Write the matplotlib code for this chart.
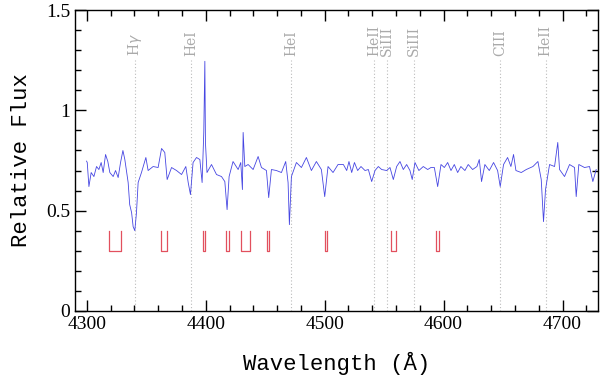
import matplotlib
matplotlib.use("Agg")
import matplotlib.pyplot as plt
from matplotlib.ticker import MultipleLocator

wave = [4299.7, 4300.3, 4301.7, 4303.6, 4305.9, 4308.1, 4310.1, 4312.0, 4313.7, 4315.7,
        4317.6, 4319.3, 4322.1, 4324.1, 4326.3, 4328.3, 4330.3, 4331.9, 4334.7, 4336.0,
        4337.6, 4338.9, 4340.3, 4341.7, 4343.1, 4345.9, 4349.6, 4351.5, 4355.7, 4359.9,
        4362.8, 4365.5, 4367.5, 4371.2, 4375.4, 4379.6, 4383.2, 4385.2, 4387.1, 4389.3,
        4392.2, 4395.0, 4396.9, 4398.3, 4399.2, 4399.7, 4401.0, 4404.8, 4409.0, 4413.2,
        4416.0, 4417.9, 4419.6, 4422.9, 4427.2, 4429.4, 4430.8, 4431.4, 4432.8, 4435.6,
        4439.8, 4444.0, 4446.8, 4451.0, 4452.9, 4455.2, 4459.4, 4463.6, 4467.2, 4469.2,
        4470.3, 4472.0, 4476.2, 4480.4, 4484.6, 4488.8, 4493.0, 4497.2, 4500.0, 4502.8,
        4507.0, 4511.2, 4515.7, 4518.5, 4520.4, 4522.7, 4525.0, 4527.7, 4530.5, 4533.9,
        4536.7, 4539.5, 4542.3, 4545.1, 4547.9, 4552.1, 4554.9, 4557.7, 4560.5, 4563.3,
        4566.1, 4568.9, 4571.7, 4573.6, 4575.9, 4579.2, 4582.9, 4586.6, 4589.3, 4592.2,
        4595.0, 4597.8, 4600.6, 4603.4, 4606.2, 4609.0, 4611.8, 4614.5, 4617.9, 4620.7,
        4624.4, 4628.0, 4630.0, 4631.9, 4634.7, 4638.4, 4642.0, 4645.4, 4647.6, 4650.4,
        4653.8, 4656.6, 4658.8, 4660.8, 4665.3, 4669.5, 4675.1, 4679.3, 4682.1, 4684.0,
        4685.7, 4689.1, 4693.3, 4696.0, 4697.5, 4701.7, 4705.9, 4710.1, 4711.5, 4713.7,
        4718.5, 4722.7, 4725.5, 4728.3]
flux = [0.747, 0.74, 0.62, 0.69, 0.67, 0.72, 0.705, 0.74, 0.69, 0.78,
        0.745, 0.69, 0.67, 0.70, 0.665, 0.74, 0.80, 0.755, 0.64, 0.53,
        0.49, 0.42, 0.40, 0.49, 0.64, 0.69, 0.765, 0.70, 0.72, 0.715,
        0.81, 0.79, 0.655, 0.715, 0.70, 0.68, 0.72, 0.64, 0.58, 0.74,
        0.765, 0.755, 0.64, 0.89, 1.245, 0.84, 0.69, 0.73, 0.68, 0.67,
        0.645, 0.505, 0.67, 0.745, 0.705, 0.74, 0.605, 0.89, 0.72, 0.73,
        0.705, 0.77, 0.715, 0.70, 0.565, 0.705, 0.70, 0.69, 0.745, 0.64,
        0.43, 0.67, 0.74, 0.715, 0.765, 0.70, 0.745, 0.705, 0.57, 0.72,
        0.69, 0.73, 0.73, 0.70, 0.745, 0.69, 0.74, 0.70, 0.72, 0.70,
        0.705, 0.645, 0.70, 0.72, 0.705, 0.70, 0.715, 0.655, 0.72, 0.745,
        0.705, 0.73, 0.70, 0.655, 0.74, 0.70, 0.72, 0.705, 0.715, 0.715,
        0.62, 0.73, 0.715, 0.74, 0.70, 0.73, 0.69, 0.72, 0.70, 0.73,
        0.705, 0.72, 0.755, 0.645, 0.73, 0.70, 0.74, 0.70, 0.62, 0.73,
        0.765, 0.72, 0.78, 0.70, 0.69, 0.705, 0.72, 0.745, 0.655, 0.445,
        0.605, 0.73, 0.72, 0.84, 0.705, 0.67, 0.73, 0.715, 0.57, 0.73,
        0.715, 0.72, 0.645, 0.705]

# line identifications
line_wave = [4340.5, 4387.9, 4471.5, 4541.6, 4552.6, 4574.8, 4647.4, 4685.7]
line_name = [r"H$\gamma$", "HeI", "HeI", "HeII", "SiIII", "SiIII", "CIII", "HeII"]

# red marker brackets (start, end wavelength)
mark_lo = [4318.5, 4362.0, 4397.7, 4417.4, 4430.0, 4451.5, 4500.5, 4556.0, 4593.5]
mark_hi = [4329.0, 4367.5, 4399.7, 4419.6, 4437.0, 4453.5, 4502.0, 4559.7, 4596.0]

fig = plt.figure(figsize=(6, 3.91), dpi=100)
ax = fig.add_axes([0.125, 0.205, 0.872, 0.769])

for w, name in zip(line_wave, line_name):
    ax.plot([w, w], [0, 1.25], color="#bbbbbb", lw=0.8, ls=(0, (1, 2)))
    ax.text(w, 1.27, name, rotation=90, ha="center", va="bottom",
            color="#aaaaaa", fontsize=10, family="DejaVu Serif")

for lo, hi in zip(mark_lo, mark_hi):
    ax.plot([lo, lo, hi, hi], [0.4, 0.3, 0.3, 0.4], color="#e2505e", lw=0.9)

ax.plot(wave, flux, color="#4646e2", lw=0.6)

ax.set_xlim(4290, 4730)
ax.set_ylim(0, 1.5)
ax.xaxis.set_major_locator(MultipleLocator(100))
ax.xaxis.set_minor_locator(MultipleLocator(20))
ax.yaxis.set_minor_locator(MultipleLocator(0.1))
ax.set_yticks([0, 0.5, 1, 1.5])
ax.set_yticklabels(["0", "0.5", "1", "1.5"])
ax.tick_params(which="both", direction="in", top=True, right=True, width=1)
ax.tick_params(which="major", length=8, labelsize=14)
ax.tick_params(which="minor", length=4)
for lab in ax.get_xticklabels() + ax.get_yticklabels():
    lab.set_family("Liberation Serif")
for s in ax.spines.values():
    s.set_linewidth(1)

ax.set_xlabel("Wavelength (Å)", family="Liberation Mono", fontsize=16, labelpad=14)
ax.set_ylabel("Relative Flux", family="Liberation Mono", fontsize=16, labelpad=10)

fig.savefig("out.png", dpi=100)
